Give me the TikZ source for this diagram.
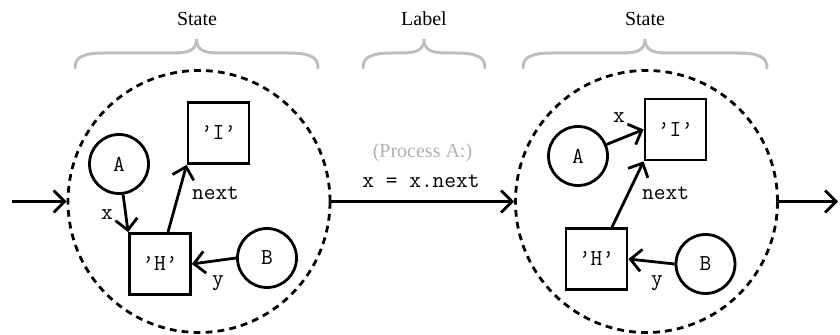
\documentclass[tikz,border=0pt]{standalone}
\usepackage{fontspec}
\setmainfont{Liberation Serif}
\usetikzlibrary{arrows.meta}
\newcommand\codefont{\ttfamily\fontsize{11.4pt}{13pt}\selectfont}
\begin{document}
\begin{tikzpicture}[x=0.5pt,y=-0.5pt,
  bigstate/.style={circle, draw, line width=1.4pt, dash pattern=on 3.4pt off 2.6pt, minimum size=131pt, inner sep=0pt},
  ptr/.style={circle, draw, line width=1.4pt, minimum size=29.5pt, inner sep=0pt, font=\codefont},
  obj/.style={rectangle, draw, line width=1.4pt, minimum size=30.5pt, inner sep=0pt, font=\codefont},
  link/.style={draw, line width=1.4pt, -{Straight Barb[length=5.5pt,width=11pt]}},
  lbl/.style={font=\codefont, inner sep=1pt},
  bracestyle/.style={draw=gray!50, line width=1.5pt, line cap=round},
  title/.style={inner sep=1pt}
]
\useasboundingbox (0,0) rectangle (840,335);

% braces and titles
\foreach \a/\c/\b in {75/196.5/318, 363/424/485, 523/645/767}{
  \draw[bracestyle] (\a,68) .. controls (\a,57) and (\a+8,53) .. (\a+30,53) -- (\c-22,53)
     .. controls (\c-6,53) and (\c,49) .. (\c,39)
     .. controls (\c,49) and (\c+6,53) .. (\c+22,53) -- (\b-30,53)
     .. controls (\b-8,53) and (\b,57) .. (\b,68);
}
\node[title] (t1) at (197,18.5) {State};
\node[title] (t2) at (424,18.5) {Label};
\node[title] (t3) at (645,18.5) {State};

% state circles
\node[bigstate] (S1) at (199,201.5) {};
\node[bigstate] (S2) at (646.5,201.5) {};

% left state
\node[ptr] (A1) at (119,164) {A};
\node[obj] (I1) at (218.5,133) {’I’};
\node[obj] (H1) at (160,264) {’H’};
\node[ptr] (B1) at (267,258) {B};
\draw[link] (A1) -- (H1.north west);
\draw[link] ([xshift=4pt]H1.north) -- (I1.south west);
\draw[link] (B1.west) -- (H1.east);
\node[lbl] (lx1) at (107,215) {x};
\node[lbl] (ln1) at (215.5,193) {next};
\node[lbl] (ly1) at (218,283) {y};

% right state
\node[ptr] (A2) at (578,156) {A};
\node[obj] (I2) at (675.5,129.5) {’I’};
\node[obj] (H2) at (596.5,259) {’H’};
\node[ptr] (B2) at (705.5,264) {B};
\draw[link] (A2) -- (I2.west);
\draw[link] ([xshift=7.75pt]H2.north) -- (I2.south west);
\draw[link] (B2.west) -- (H2.east);
\node[lbl] (lx2) at (619,118) {x};
\node[lbl] (ln2) at (665.5,193) {next};
\node[lbl] (ly2) at (657,283) {y};

% transitions
\coordinate (in) at (12,201.5);
\coordinate (out) at (838,201.5);
\draw[link] (in) -- (S1.west);
\draw[link] (S1.east) -- (S2.west);
\draw[link] (S2.east) -- (out);
\node[title, text=gray!60] (proc) at (422.5,153) {(Process A:)};
\node[lbl] (act) at (421,181) {x = x.next};
\end{tikzpicture}
\end{document}
